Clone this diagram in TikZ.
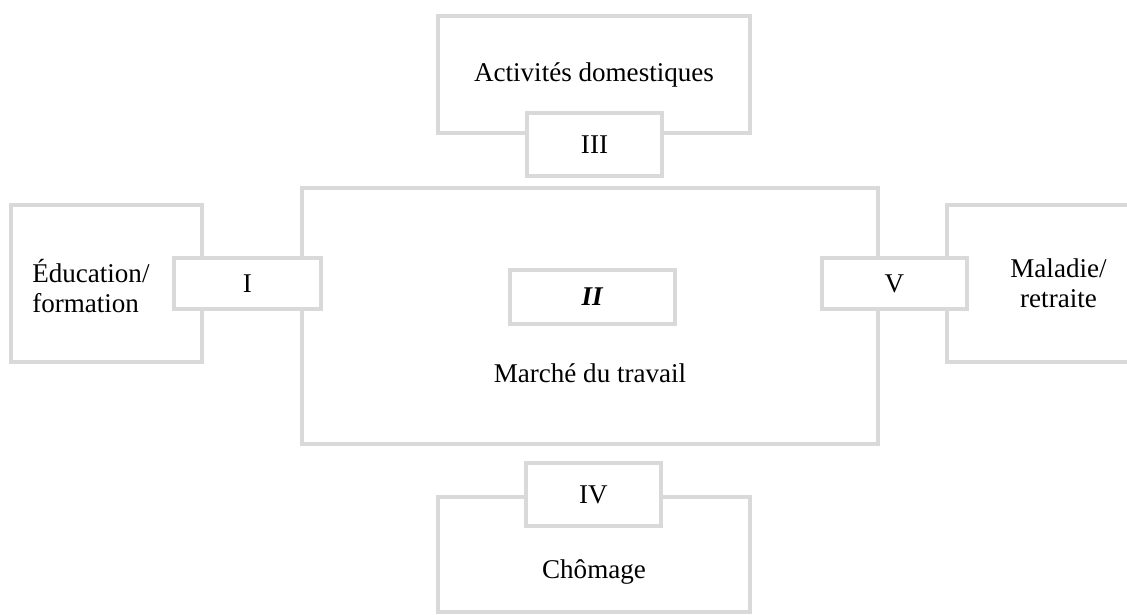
\documentclass[tikz,border=0pt]{standalone}
\usepackage{fontspec}
\setmainfont{Liberation Serif}
\definecolor{framegray}{RGB}{217,217,217}

\begin{document}
\begin{tikzpicture}[x=0.75pt,y=-0.75pt,
  every node/.style={font=\fontsize{20.3}{22.5}\selectfont},
  zonebox/.style={draw=framegray,line width=3.4pt,fill=white,inner sep=0pt,align=center},
  tagbox/.style={zonebox,minimum width=101.25pt,minimum height=47.25pt}]
\path[use as bounding box,clip] (0,0) rectangle (1127,614);
% large areas
\node[zonebox,minimum width=234pt,minimum height=87.75pt] (dom) at (594,74.5) {Activités domestiques};
\node[zonebox,minimum width=432pt,minimum height=192pt] (marche) at (590,316) {};
\node[zonebox,minimum width=143.25pt,minimum height=117.75pt] (educ) at (106.5,283.5) {};
\node[zonebox,minimum width=167.25pt,minimum height=117.75pt] (malad) at (1058.5,283.5) {Maladie/\\retraite};
\node[zonebox,minimum width=234pt,minimum height=86.25pt] (chom) at (594,554.5) {};
% labels
\node[anchor=west,align=left,inner xsep=0pt] (educlbl) at (32,286) {Éducation/\\formation};
\node (marchelbl) at (590,373) {Marché du travail};
\node (chomlbl) at (594,572) {Chômage};
% transitions
\node[tagbox,minimum width=123.75pt,minimum height=40.5pt] (t2) at (592.5,297) {\textbf{\textit{II}}};
\node[tagbox,minimum width=110.25pt,minimum height=38.25pt] (t1) at (247.5,283.5) {I};
\node[tagbox,minimum width=108.75pt,minimum height=38.25pt] (t5) at (894.5,283.5) {V};
\node[tagbox] (t3) at (594.5,144.5) {III};
\node[tagbox] (t4) at (593.5,494.5) {IV};
\end{tikzpicture}
\end{document}
